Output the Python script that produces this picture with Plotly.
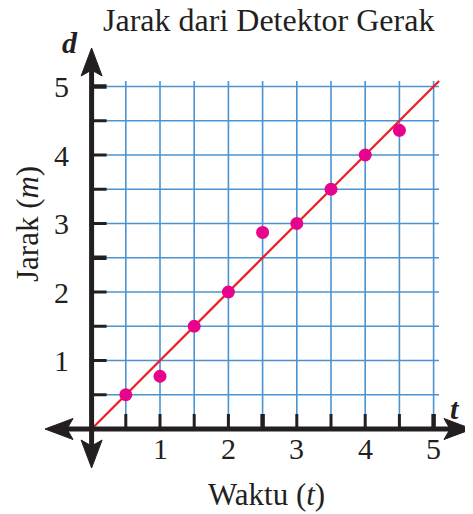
import plotly.graph_objects as go

# ---- data ----
t_values = [0.5, 1.0, 1.5, 2.0, 2.5, 3.0, 3.5, 4.0, 4.5]
d_values = [0.5, 0.77, 1.5, 2.0, 2.87, 3.0, 3.5, 4.0, 4.36]
fit_t = [0.0, 5.08]
fit_d = [0.0, 5.08]
grid_steps = [0.5, 1.0, 1.5, 2.0, 2.5, 3.0, 3.5, 4.0, 4.5, 5.0]
tick_labels = ["1", "2", "3", "4", "5"]
tick_vals = [1, 2, 3, 4, 5]
major_ticks = [2.5, 5.0]

OFF = 8            # page body margin
W, H = 473 - OFF, 514 - OFF
X0, SX = 91.6, 68.4   # reference pixel of t=0, pixels per unit
Y0, SY = 429.0, 68.5  # reference pixel of d=0, pixels per unit

def dx(px):
    return (px - X0) / SX

def dy(py):
    return (Y0 - py) / SY

GRID_END = 5.08
FONT = "Liberation Serif, Times New Roman, serif"
INK = "#231f20"

fig = go.Figure()
fig.add_trace(go.Scatter(x=fit_t, y=fit_d, mode="lines",
                         line=dict(color="#ec1c24", width=2.2), hoverinfo="skip"))
fig.add_trace(go.Scatter(x=t_values, y=d_values, mode="markers",
                         marker=dict(color="#e8048a", size=13), hoverinfo="skip"))

shapes = []
grid_color = "#4b93d1"
for g in grid_steps:
    shapes.append(dict(type="line", x0=g, x1=g, y0=0, y1=GRID_END, xref="x", yref="y",
                       line=dict(color=grid_color, width=1.6), layer="below"))
    shapes.append(dict(type="line", x0=0, x1=GRID_END, y0=g, y1=g, xref="x", yref="y",
                       line=dict(color=grid_color, width=1.6), layer="below"))

axis_w = 5
shapes.append(dict(type="line", x0=dx(52), x1=dx(462), y0=0, y1=0,
                   line=dict(color=INK, width=axis_w), layer="above"))
shapes.append(dict(type="line", x0=0, x1=0, y0=dy(56), y1=dy(460),
                   line=dict(color=INK, width=axis_w), layer="above"))

for g in grid_steps:
    w = 4.5 if g in major_ticks else 3
    shapes.append(dict(type="line", x0=g, x1=g, y0=0, y1=dy(Y0 - 15),
                       line=dict(color=INK, width=w), layer="above"))
    shapes.append(dict(type="line", x0=0, x1=dx(X0 + 15), y0=g, y1=g,
                       line=dict(color=INK, width=w), layer="above"))

def arrow(tipx, tipy, ux, uy, L=28, Wd=10.5, notch=6):
    px_, py_ = -uy, ux
    bx, by = tipx - ux * L, tipy - uy * L
    nx, ny = tipx - ux * (L - notch), tipy - uy * (L - notch)
    pts = [(tipx, tipy), (bx + px_ * Wd, by + py_ * Wd), (nx, ny), (bx - px_ * Wd, by - py_ * Wd)]
    d = "M " + " L ".join(f"{dx(a):.4f},{dy(b):.4f}" for a, b in pts) + " Z"
    return dict(type="path", path=d, fillcolor=INK, line=dict(color=INK, width=1),
                layer="above")

shapes.append(arrow(472, Y0, 1, 0))
shapes.append(arrow(45, Y0, -1, 0))
shapes.append(arrow(X0, 48, 0, -1))
shapes.append(arrow(X0, 468, 0, 1))

annotations = []
for v, lab in zip(tick_vals, tick_labels):
    annotations.append(dict(x=v, y=dy(448), text=lab, showarrow=False,
                            font=dict(family=FONT, size=30, color=INK),
                            xanchor="center", yanchor="middle"))
    annotations.append(dict(x=dx(71), y=v, text=lab, showarrow=False,
                            font=dict(family=FONT, size=30, color=INK),
                            xanchor="right", yanchor="middle"))

annotations.append(dict(x=dx(268), y=dy(20), text="Jarak dari Detektor Gerak", showarrow=False,
                        font=dict(family=FONT, size=32, color=INK),
                        xanchor="center", yanchor="middle"))
annotations.append(dict(x=dx(266), y=dy(494), text="Waktu (<i>t</i>)", showarrow=False,
                        font=dict(family=FONT, size=31, color=INK),
                        xanchor="center", yanchor="middle"))
annotations.append(dict(x=dx(27), y=dy(224), text="Jarak (<i>m</i>)", showarrow=False,
                        textangle=-90,
                        font=dict(family=FONT, size=31, color=INK),
                        xanchor="center", yanchor="middle"))
annotations.append(dict(x=dx(70), y=dy(42), text="<b><i>d</i></b>", showarrow=False,
                        font=dict(family=FONT, size=30, color=INK),
                        xanchor="center", yanchor="middle"))
annotations.append(dict(x=dx(455), y=dy(408), text="<b><i>t</i></b>", showarrow=False,
                        font=dict(family=FONT, size=30, color=INK),
                        xanchor="center", yanchor="middle"))

fig.update_layout(
    width=W, height=H, autosize=False,
    margin=dict(l=0, r=0, t=0, b=0),
    paper_bgcolor="white", plot_bgcolor="white",
    showlegend=False,
    xaxis=dict(range=[dx(OFF), dx(473)], visible=False, fixedrange=True),
    yaxis=dict(range=[dy(514), dy(OFF)], visible=False, fixedrange=True),
    shapes=shapes, annotations=annotations,
)

fig.write_html("out.html", config={"displayModeBar": False})
